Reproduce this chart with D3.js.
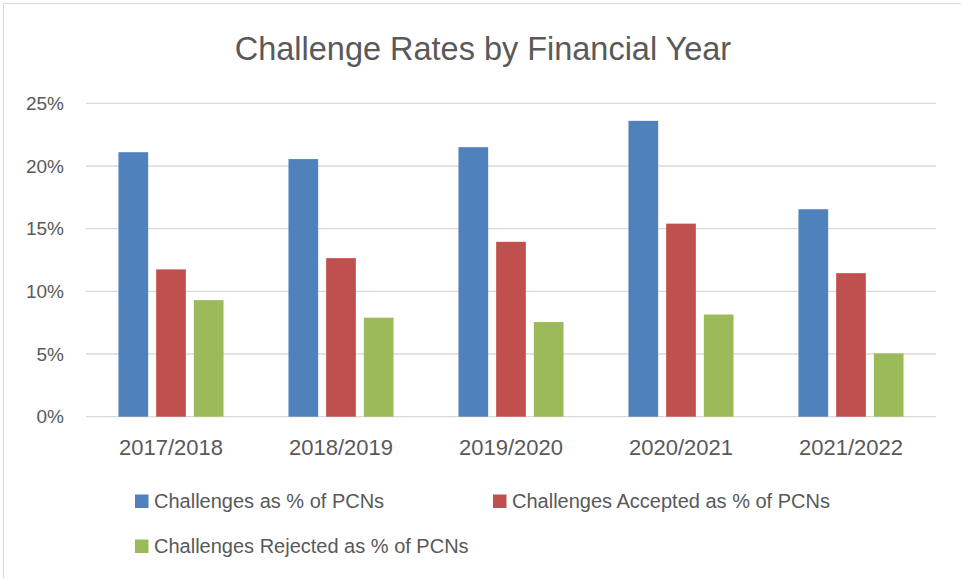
<!DOCTYPE html>
<html>
<head>
<meta charset="utf-8">
<script src="https://cdn.jsdelivr.net/npm/d3@7"></script>
<style>
  body { margin: 0; background: #fff; }
  text { font-family: "Liberation Sans", Arial, sans-serif; fill: #595959; }
</style>
</head>
<body>
<script>
const w = 961;
const h = 578;

const years = ["2017/2018", "2018/2019", "2019/2020", "2020/2021", "2021/2022"];
const seriesNames = ["Challenges as % of PCNs", "Challenges Accepted as % of PCNs", "Challenges Rejected as % of PCNs"];
const challenges = [21.1, 20.55, 21.5, 23.6, 16.55];
const accepted = [11.75, 12.65, 13.95, 15.4, 11.45];
const rejected = [9.3, 7.9, 7.55, 8.15, 5.05];
const yTicks = [0, 5, 10, 15, 20, 25];
const colors = ["#4F81BD", "#C0504D", "#9BBB59"];

const seriesValues = [challenges, accepted, rejected];
const dataset = years.map((y, i) => ({ year: y, values: seriesValues.map(s => s[i]) }));

// squeeze text a little so it reads closer to the narrower original face
function condense(sel, k) {
  sel.each(function() {
    const len = this.getComputedTextLength();
    d3.select(this).attr("textLength", len * k).attr("lengthAdjust", "spacingAndGlyphs");
  });
}

const svg = d3.select("body").append("svg")
  .attr("width", w)
  .attr("height", h);

// chart frame
svg.append("rect")
  .attr("x", 3.5).attr("y", 3.5)
  .attr("width", w + 10).attr("height", h + 10)
  .attr("fill", "none")
  .attr("stroke", "#D9D9D9");

svg.append("text")
  .attr("x", 483).attr("y", 59.5)
  .attr("text-anchor", "middle")
  .attr("font-size", "34px")
  .text("Challenge Rates by Financial Year")
  .call(condense, 0.955);

const x0 = d3.scaleBand()
  .domain(years)
  .range([86, 936])
  .paddingInner(0.382)
  .paddingOuter(0.191);

const x1 = d3.scaleBand()
  .domain(d3.range(3))
  .range([0, x0.bandwidth()])
  .paddingInner(0.212);

const yScale = d3.scaleLinear()
  .domain([0, 25])
  .range([416.7, 103.3]);

// gridlines
svg.append("g")
  .selectAll("line")
  .data(yTicks)
  .enter()
  .append("line")
  .attr("x1", 86).attr("x2", 936)
  .attr("y1", d => yScale(d)).attr("y2", d => yScale(d))
  .attr("stroke", "#D9D9D9")
  .attr("stroke-width", 1.3);

const yAxis = d3.axisLeft(yScale).tickValues(yTicks).tickFormat(d => d + "%").tickSize(0).tickPadding(22);
svg.append("g")
  .attr("transform", "translate(86,0)")
  .call(yAxis)
  .call(g => g.select(".domain").remove())
  .call(g => g.selectAll("text").attr("font-size", "19px").attr("fill", "#595959").attr("font-family", "Liberation Sans, Arial, sans-serif"));

const groups = svg.append("g")
  .selectAll("g")
  .data(dataset)
  .enter()
  .append("g")
  .attr("transform", d => "translate(" + x0(d.year) + ",0)");

groups.selectAll("rect")
  .data(d => d.values)
  .enter()
  .append("rect")
  .attr("x", (d, i) => x1(i))
  .attr("y", d => yScale(d))
  .attr("width", x1.bandwidth())
  .attr("height", d => yScale(0) - yScale(d))
  .attr("fill", (d, i) => colors[i]);

const xAxis = d3.axisBottom(x0).tickSize(0).tickPadding(23);
svg.append("g")
  .attr("transform", "translate(0," + yScale(0) + ")")
  .call(xAxis)
  .call(g => g.select(".domain").remove())
  .call(g => g.selectAll("text").attr("font-size", "22px").attr("fill", "#595959").attr("font-family", "Liberation Sans, Arial, sans-serif"));

// legend
const legendPos = [[135, 501], [493, 501], [135, 546]];
const legend = svg.append("g")
  .selectAll("g")
  .data(seriesNames)
  .enter()
  .append("g")
  .attr("transform", (d, i) => "translate(" + legendPos[i][0] + "," + legendPos[i][1] + ")");

legend.append("rect")
  .attr("x", 0).attr("y", -6.5)
  .attr("width", 13.5).attr("height", 13.5)
  .attr("fill", (d, i) => colors[i]);

legend.append("text")
  .attr("x", 19).attr("y", 7.2)
  .attr("font-size", "20px")
  .text(d => d);
</script>
</body>
</html>
